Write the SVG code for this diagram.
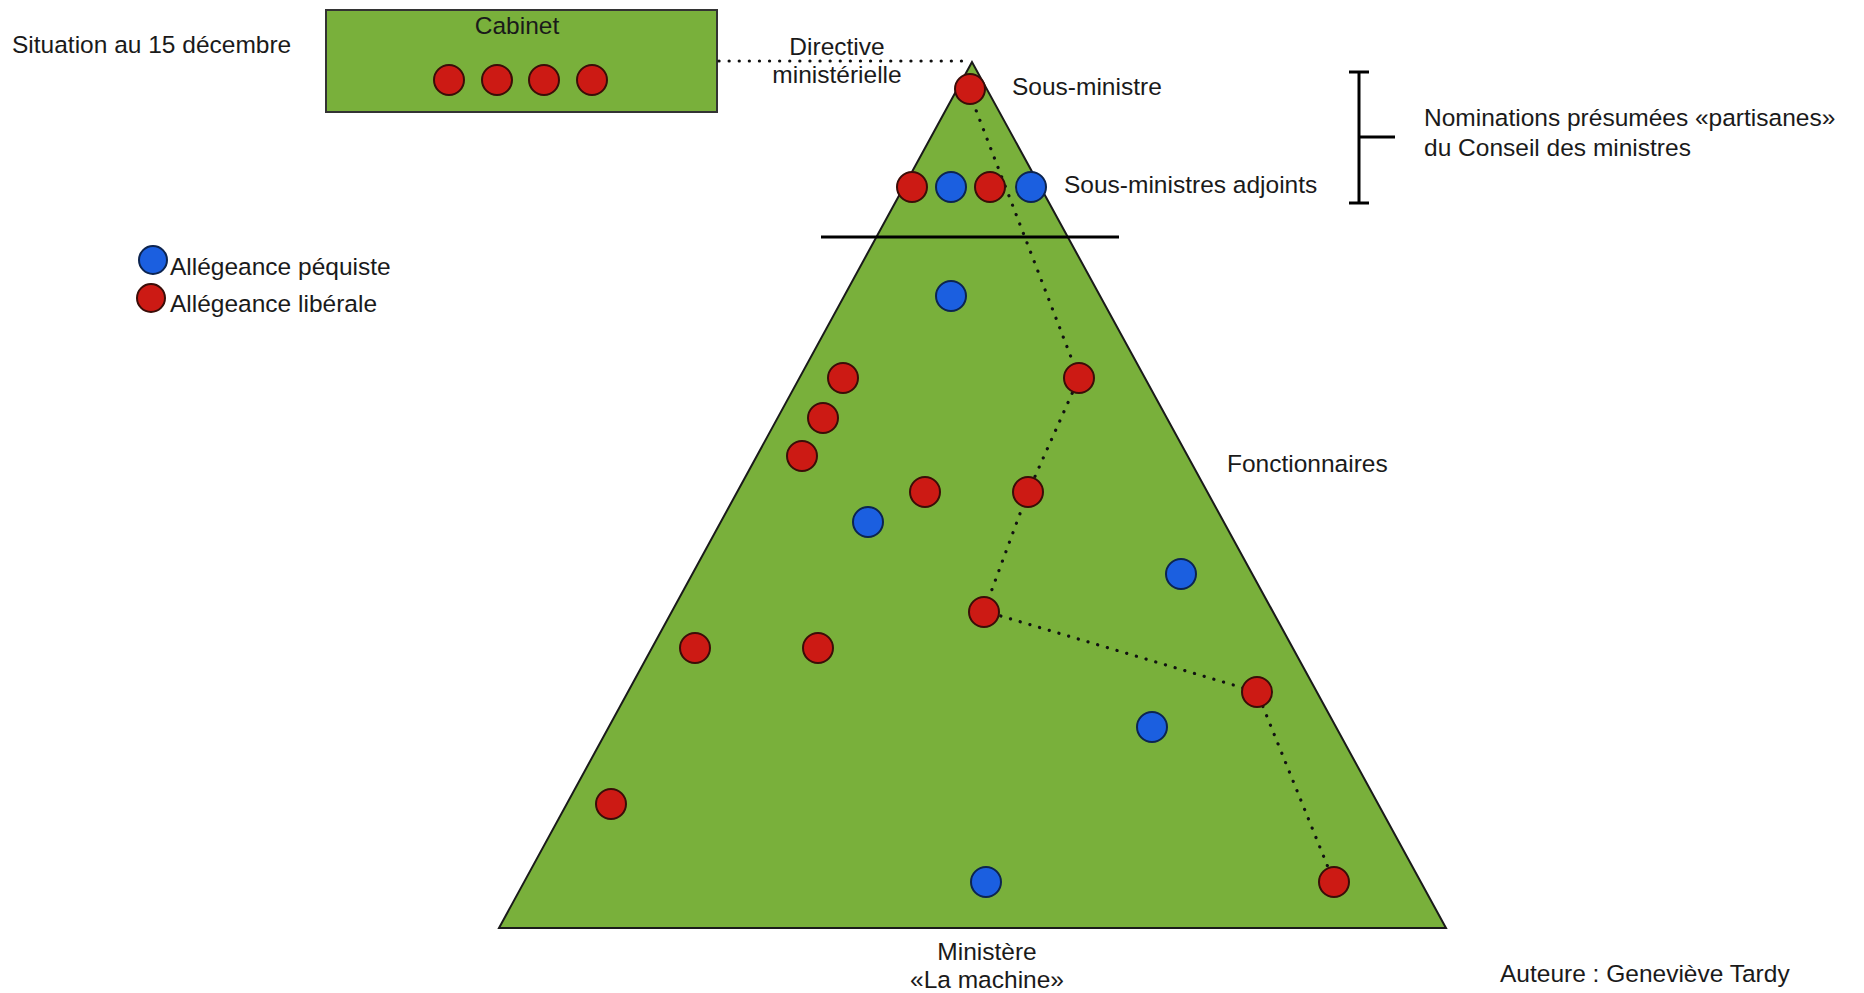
<svg xmlns="http://www.w3.org/2000/svg" width="1864" height="993" viewBox="0 0 1864 993">
<style>
text{font-family:"Liberation Sans",Arial,Helvetica,sans-serif;font-size:24.5px;fill:#1a1a1a}
.mid{text-anchor:middle}
.r{fill:#cc1a14;stroke:#3a0d08;stroke-width:2}
.b{fill:#1b5fe0;stroke:#0c2450;stroke-width:2}
.dot{fill:none;stroke:#111;stroke-width:3.2;stroke-linecap:round;stroke-dasharray:0.1 10}
.blk{stroke:#000;stroke-width:3;fill:none}
</style>
<rect width="1864" height="993" fill="#fff"/>
<g id="title"><text x="12" y="53">Situation au 15 décembre</text></g>
<g id="cabinet">
<rect x="326" y="10" width="391" height="102" fill="#79b03b" stroke="#333" stroke-width="2"/>
<text class="mid" x="517" y="34">Cabinet</text>
<circle class="r" cx="449" cy="80" r="15"/>
<circle class="r" cx="497" cy="80" r="15"/>
<circle class="r" cx="544" cy="80" r="15"/>
<circle class="r" cx="592" cy="80" r="15"/>
</g>
<g id="directive">
<text class="mid" x="837" y="55">Directive</text>
<text class="mid" x="837" y="83">ministérielle</text>
</g>
<g id="ministere">
<polygon points="972,62 499,928 1446,928" fill="#79b03b" stroke="#1a1a1a" stroke-width="2"/>
</g>
<g id="ligne"><line class="blk" x1="821" y1="237" x2="1119" y2="237"/></g>
<g id="connectors">
<line class="dot" x1="719" y1="61" x2="970" y2="61"/>
<polyline class="dot" points="969,92 1079,378 1028,492 984,611 1257,692 1334,882"/>
</g>
<g id="sous-ministre">
<circle class="r" cx="970" cy="89" r="15"/>
<text x="1012" y="95">Sous-ministre</text>
</g>
<g id="adjoints">
<circle class="r" cx="912" cy="187" r="15"/>
<circle class="b" cx="951" cy="187" r="15"/>
<circle class="r" cx="990" cy="187" r="15"/>
<circle class="b" cx="1031" cy="187" r="15"/>
<text x="1064" y="193">Sous-ministres adjoints</text>
</g>
<g id="bracket">
<line class="blk" x1="1359" y1="72" x2="1359" y2="203"/>
<line class="blk" x1="1349" y1="72" x2="1369" y2="72"/>
<line class="blk" x1="1349" y1="203" x2="1369" y2="203"/>
<line class="blk" x1="1359" y1="137" x2="1395" y2="137"/>
<text x="1424" y="126">Nominations présumées «partisanes»</text>
<text x="1424" y="156">du Conseil des ministres</text>
</g>
<g id="legende">
<circle class="b" cx="153" cy="260" r="14"/>
<text x="170" y="275">Allégeance péquiste</text>
<circle class="r" cx="151" cy="298" r="14"/>
<text x="170" y="312">Allégeance libérale</text>
</g>
<g id="fonctionnaires">
<circle class="b" cx="951" cy="296" r="15"/>
<circle class="r" cx="843" cy="378" r="15"/>
<circle class="r" cx="1079" cy="378" r="15"/>
<circle class="r" cx="823" cy="418" r="15"/>
<circle class="r" cx="802" cy="456" r="15"/>
<circle class="r" cx="925" cy="492" r="15"/>
<circle class="r" cx="1028" cy="492" r="15"/>
<circle class="b" cx="868" cy="522" r="15"/>
<circle class="b" cx="1181" cy="574" r="15"/>
<circle class="r" cx="984" cy="612" r="15"/>
<circle class="r" cx="695" cy="648" r="15"/>
<circle class="r" cx="818" cy="648" r="15"/>
<circle class="r" cx="1257" cy="692" r="15"/>
<circle class="b" cx="1152" cy="727" r="15"/>
<circle class="r" cx="611" cy="804" r="15"/>
<circle class="b" cx="986" cy="882" r="15"/>
<circle class="r" cx="1334" cy="882" r="15"/>
<text x="1227" y="472">Fonctionnaires</text>
</g>
<g id="machine">
<text class="mid" x="987" y="960">Ministère</text>
<text class="mid" x="987" y="988">«La machine»</text>
</g>
<g id="auteure"><text x="1500" y="982">Auteure : Geneviève Tardy</text></g>
</svg>
